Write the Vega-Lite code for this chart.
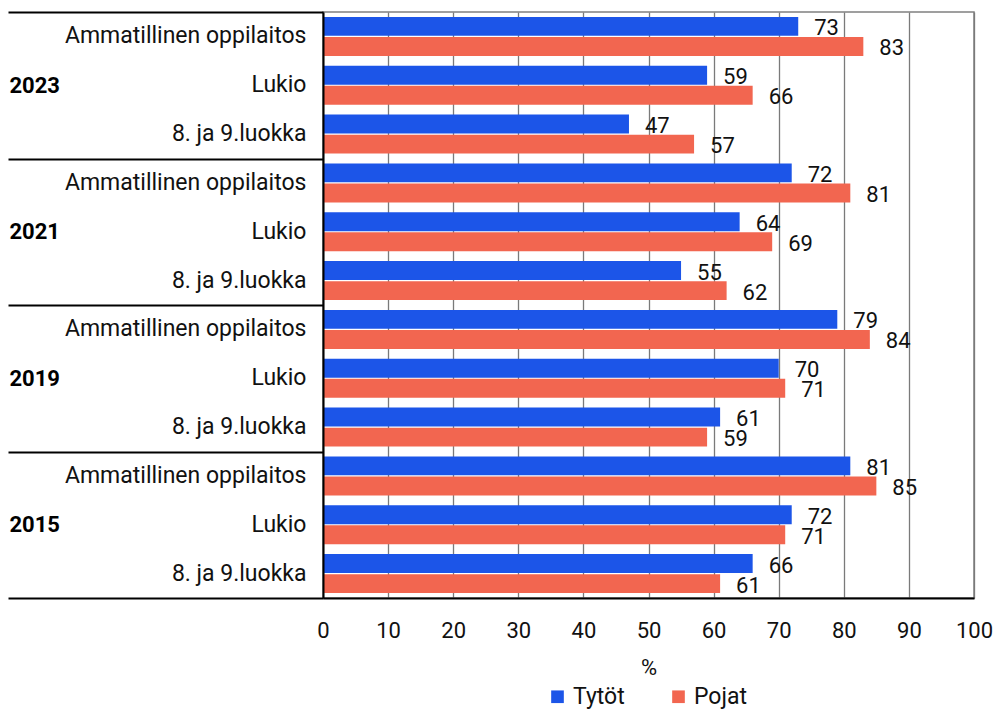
{
  "$schema": "https://vega.github.io/schema/vega-lite/v6.json",
  "width": 651,
  "height": 586,
  "padding": {"left": 6, "top": 1, "right": 5, "bottom": 0},
  "config": {
    "font": "Roboto",
    "view": {"stroke": "#808080", "strokeWidth": 1.5},
    "axis": {"labelFont": "Roboto", "titleFont": "Roboto", "labelColor": "#111", "titleColor": "#111"}
  },
  "datasets": {
    "bars": [
      {"key": "2023|Ammatillinen oppilaitos", "gender": "Tytöt", "value": 73},
      {"key": "2023|Ammatillinen oppilaitos", "gender": "Pojat", "value": 83},
      {"key": "2023|Lukio", "gender": "Tytöt", "value": 59},
      {"key": "2023|Lukio", "gender": "Pojat", "value": 66},
      {"key": "2023|8. ja 9.luokka", "gender": "Tytöt", "value": 47},
      {"key": "2023|8. ja 9.luokka", "gender": "Pojat", "value": 57},
      {"key": "2021|Ammatillinen oppilaitos", "gender": "Tytöt", "value": 72},
      {"key": "2021|Ammatillinen oppilaitos", "gender": "Pojat", "value": 81},
      {"key": "2021|Lukio", "gender": "Tytöt", "value": 64},
      {"key": "2021|Lukio", "gender": "Pojat", "value": 69},
      {"key": "2021|8. ja 9.luokka", "gender": "Tytöt", "value": 55},
      {"key": "2021|8. ja 9.luokka", "gender": "Pojat", "value": 62},
      {"key": "2019|Ammatillinen oppilaitos", "gender": "Tytöt", "value": 79},
      {"key": "2019|Ammatillinen oppilaitos", "gender": "Pojat", "value": 84},
      {"key": "2019|Lukio", "gender": "Tytöt", "value": 70},
      {"key": "2019|Lukio", "gender": "Pojat", "value": 71},
      {"key": "2019|8. ja 9.luokka", "gender": "Tytöt", "value": 61},
      {"key": "2019|8. ja 9.luokka", "gender": "Pojat", "value": 59},
      {"key": "2015|Ammatillinen oppilaitos", "gender": "Tytöt", "value": 81},
      {"key": "2015|Ammatillinen oppilaitos", "gender": "Pojat", "value": 85},
      {"key": "2015|Lukio", "gender": "Tytöt", "value": 72},
      {"key": "2015|Lukio", "gender": "Pojat", "value": 71},
      {"key": "2015|8. ja 9.luokka", "gender": "Tytöt", "value": 66},
      {"key": "2015|8. ja 9.luokka", "gender": "Pojat", "value": 61}
    ],
    "years": [
      {"year": "2023"}, {"year": "2021"}, {"year": "2019"}, {"year": "2015"}
    ]
  },
  "layer": [
    {
      "data": {"name": "bars"},
      "layer": [
        {
          "mark": {"type": "bar"},
          "encoding": {
            "y": {
              "field": "key", "type": "nominal", "sort": null,
              "scale": {"paddingInner": 0.2, "paddingOuter": 0.1},
              "axis": {
                "orient": "left", "title": null,
                "labelExpr": "split(datum.value, '|')[1]",
                "labelFontSize": 23, "labelPadding": 17, "labelLimit": 0, "ticks": false,
                "domainColor": "#000", "domainWidth": 2, "zindex": 2
              }
            },
            "yOffset": {"field": "gender", "type": "nominal", "sort": null, "scale": {"paddingInner": 0.06}},
            "x": {
              "field": "value", "type": "quantitative",
              "scale": {"domain": [0, 100]},
              "axis": {
                "title": "%", "titleFontSize": 22, "titleFontWeight": "normal", "titlePadding": 16,
                "values": [0, 10, 20, 30, 40, 50, 60, 70, 80, 90, 100],
                "labelFontSize": 22, "labelPadding": 22, "labelFlush": false, "ticks": false,
                "grid": true, "gridColor": "#7a7a7a", "gridWidth": 1.3,
                "domainColor": "#000", "domainWidth": 2
              }
            },
            "color": {
              "field": "gender", "type": "nominal", "sort": null,
              "scale": {"domain": ["Tytöt", "Pojat"], "range": ["#1c55e8", "#f26650"]},
              "legend": {
                "orient": "none", "legendX": 223, "legendY": 673, "direction": "horizontal", "title": null,
                "symbolType": "square", "symbolSize": 160, "symbolStrokeWidth": 0,
                "labelFontSize": 23, "labelColor": "#111", "columnPadding": 42, "labelOffset": 4
              }
            }
          }
        },
        {
          "mark": {"type": "text", "align": "left", "baseline": "middle", "dx": 16, "dy": 2, "fontSize": 22, "color": "#111"},
          "encoding": {
            "y": {"field": "key", "type": "nominal", "sort": null},
            "yOffset": {"field": "gender", "type": "nominal", "sort": null},
            "x": {"field": "value", "type": "quantitative"},
            "text": {"field": "value", "type": "quantitative"}
          }
        }
      ]
    },
    {
      "data": {"name": "years"},
      "mark": {"type": "point", "opacity": 0},
      "encoding": {
        "y": {
          "field": "year", "type": "nominal", "sort": null,
          "scale": {"paddingInner": 0, "paddingOuter": 0},
          "axis": {
            "orient": "left", "title": null, "domain": false,
            "tickBand": "extent", "tickSize": 315, "tickWidth": 2.2, "tickColor": "#000",
            "labelAlign": "left", "labelPadding": -1, "labelFontSize": 22, "labelFontWeight": "bold", "labelColor": "#000"
          }
        }
      }
    }
  ],
  "resolve": {"scale": {"y": "independent"}, "axis": {"y": "independent"}}
}
